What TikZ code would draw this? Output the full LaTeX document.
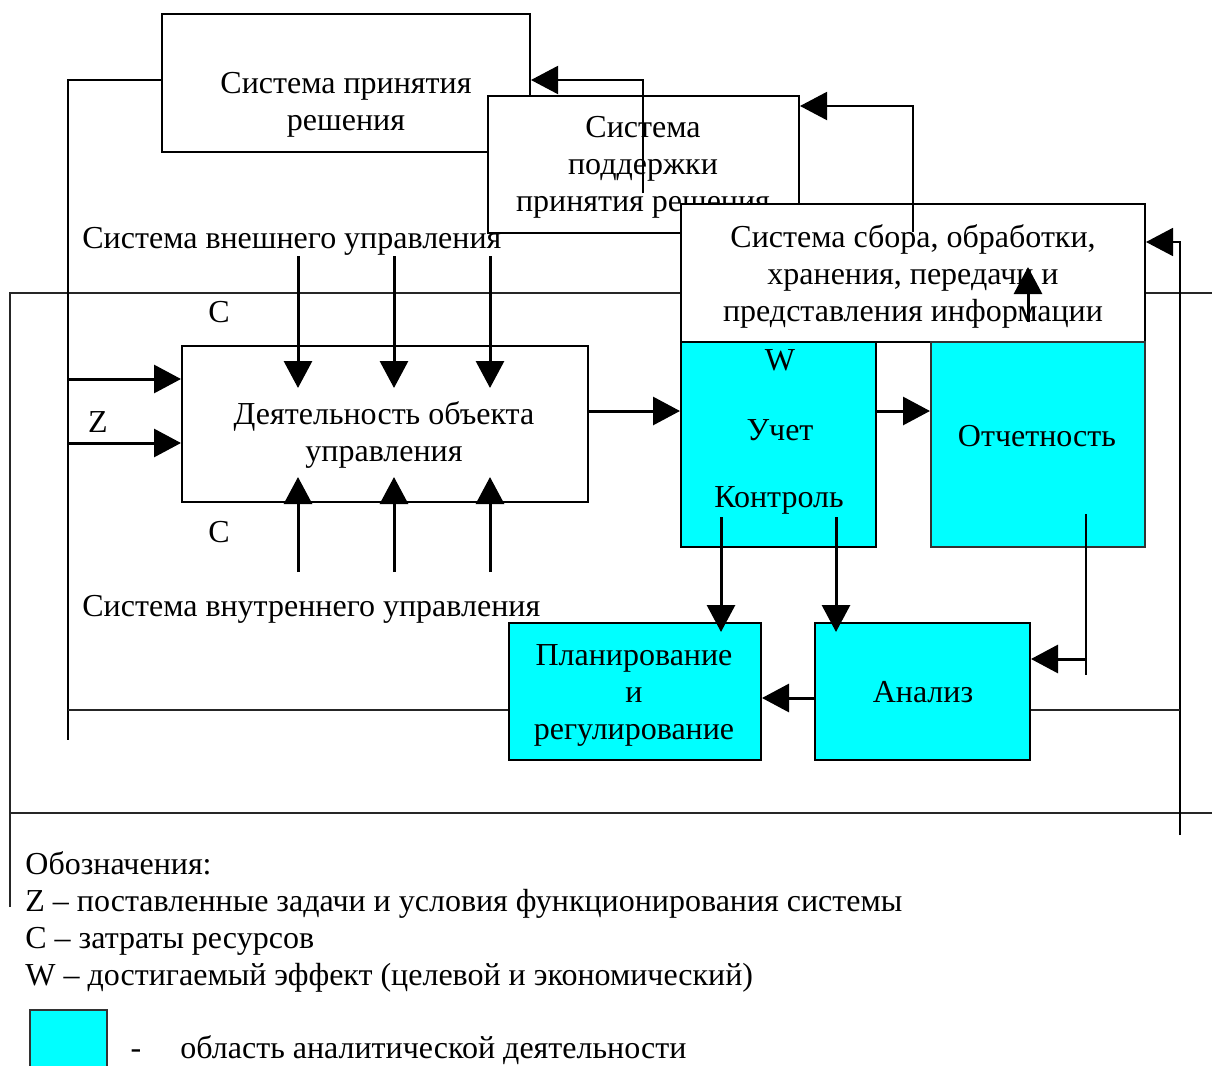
\documentclass[tikz,border=0pt]{standalone}
\usepackage{fontspec}
\setmainfont{Liberation Serif}
\usetikzlibrary{arrows.meta}
\definecolor{aqua}{HTML}{00FFFF}
\begin{document}
\begin{tikzpicture}[x=0.5pt,y=-0.5pt,
  box/.style={draw, line width=1pt, fill=white, inner sep=0pt},
  abox/.style={box, fill=aqua},
  txt/.style={font=\fontsize{16}{18.5}\selectfont, align=center, inner sep=0pt},
  arr/.style={line width=1.5pt, -{Triangle[length=13.5pt,width=14pt]}},
  frame/.style={line width=0.9pt, draw=black!85},
  thin/.style={line width=0.8pt},
  med/.style={line width=1pt}]
\useasboundingbox (0,0) rectangle (1212,1066);

% frame lines
\draw[frame] (10,907) -- (10,293) -- (1212,293);
\draw[frame] (10,813) -- (1212,813);

% decision system
\node[box, minimum width=184pt, minimum height=69pt] (b1) at (346,83) {};
\node[txt] (t1) at (346,104.5) {Система принятия\\решения};

% support system
\node[box, minimum width=155.5pt, minimum height=68.5pt] (b3) at (643.5,164.5) {};
\node[txt] (t3) at (643,167.5) {Система\\поддержки\\принятия решения};
\coordinate (c1s) at (643,193);
\coordinate (c1k) at (643,80);
\draw[arr, line width=1pt] (c1s) -- (c1k) -- (b1.east |- c1k);

% information system
\node[box, minimum width=232pt, minimum height=69pt] (b4) at (913,273) {};
\node[txt] (t4) at (913,276) {Система сбора, обработки,\\хранения, передачи и\\представления информации};
\coordinate (c2s) at (913,232);
\coordinate (c2k) at (913,106);
\draw[arr, line width=1pt] (c2s) -- (c2k) -- (b3.east |- c2k);
\coordinate (c4s) at (1028,322);
\coordinate (c4e) at (1028,267);
\draw[arr] (c4s) -- (c4e);

% right vertical line into b4
\coordinate (c3s) at (1180,835);
\coordinate (c3k) at (1180,242);
\draw[arr, line width=0.9pt] (c3s) -- (c3k) -- (b4.east |- c3k);

% activity box
\node[box, minimum width=203pt, minimum height=78pt] (b2) at (385,424) {};
\node[txt] (t2) at (384,434.5) {Деятельность объекта\\управления};

\node[txt, anchor=base west] (ext) at (82,248) {Система внешнего управления};
\node[txt, anchor=base west] (int) at (82,616) {Система внутреннего управления};
\node[txt, anchor=base] (cu) at (219,322) {C};
\node[txt, anchor=base] (cl) at (219,542) {C};
\node[txt, anchor=base] (z) at (98,432) {Z};

\foreach \x/\n in {298/a,394/b,490/c}{
  \coordinate (d\n s) at (\x,256);
  \coordinate (d\n e) at (\x,388);
  \draw[arr] (d\n s) -- (d\n e);
  \coordinate (u\n s) at (\x,572);
  \coordinate (u\n e) at (\x,477);
  \draw[arr] (u\n s) -- (u\n e);
}

% left feedback line
\coordinate (lt0) at (162,80);
\coordinate (lt) at (68,80);
\coordinate (lm) at (68,673);
\coordinate (lb) at (68,740);
\coordinate (l1) at (68,379);
\coordinate (l2) at (68,443);
\coordinate (l3) at (68,710);
\draw[line width=1.1pt] (b1.west |- lt0) -- (lt) -- (lm);
\draw[thin] (lm) -- (lb);
\draw[arr] (l1) -- (b2.west |- l1);
\draw[arr] (l2) -- (b2.west |- l2);

% accounting / control
\node[abox, minimum width=97.5pt, minimum height=102.5pt] (b5) at (778.5,444.5) {};
\node[txt, anchor=base] (tw) at (780,370) {W};
\node[txt, anchor=base] (tu) at (780,440) {Учет};
\node[txt, anchor=base] (tk) at (779,507) {Контроль};

\node[abox, draw=black!80, minimum width=107pt, minimum height=102.5pt] (b6) at (1038,444.5) {};
\node[txt, anchor=base] (to) at (1037,446) {Отчетность};

\coordinate (h1) at (0,411);
\draw[arr] (b2.east |- h1) -- (b5.west |- h1);
\draw[arr] (b5.east |- h1) -- (b6.west |- h1);

% planning and analysis
\node[abox, minimum width=126pt, minimum height=68.5pt] (b7) at (635,691.5) {};
\node[txt] (t7) at (634,695) {Планирование\\и\\регулирование};
\node[abox, minimum width=107.5pt, minimum height=68.5pt] (b8) at (922.5,691.5) {};
\node[txt, anchor=base] (t8) at (923,702) {Анализ};

\coordinate (k1s) at (721,517);
\coordinate (k1e) at (721,632);
\coordinate (k2s) at (836,517);
\coordinate (k2e) at (836,632);
\draw[arr] (k1s) -- (k1e);
\draw[arr] (k2s) -- (k2e);

\coordinate (r1) at (1086,514);
\coordinate (r2) at (1086,675);
\coordinate (r3) at (1086,659);
\draw[thin] (r1) -- (r2);
\draw[arr] (r3) -- (b8.east |- r3);

\coordinate (h2) at (0,698);
\draw[arr] (b8.west |- h2) -- (b7.east |- h2);

\coordinate (h3) at (1180,710);
\draw[frame] (l3) -- (b7.west |- l3);
\draw[frame] (b8.east |- h3) -- (h3);

% legend
\node[txt, anchor=base west] (g0) at (25,874) {Обозначения:};
\node[txt, anchor=base west] (g1) at (25,911) {Z – поставленные задачи и условия функционирования системы};
\node[txt, anchor=base west] (g2) at (25,948) {C – затраты ресурсов};
\node[txt, anchor=base west] (g3) at (25,985) {W – достигаемый эффект (целевой и экономический)};
\node[abox, draw=black!80, minimum width=38.5pt, minimum height=35pt] (gs) at (68.5,1045) {};
\node[txt, anchor=base] (gd) at (136,1058) {-};
\node[txt, anchor=base west] (g4) at (180,1058) {область аналитической деятельности};
\end{tikzpicture}
\end{document}
